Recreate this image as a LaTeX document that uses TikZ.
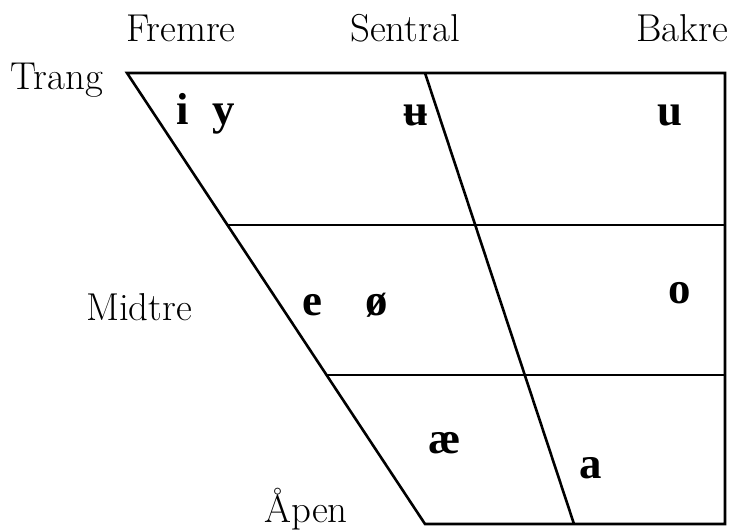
\documentclass[tikz,border=0pt]{standalone}
\usepackage{fontspec}
\setmainfont{Latin Modern Roman}
\newfontfamily\vowfont{Liberation Serif}
\begin{document}
\begin{tikzpicture}[x=1bp,y=-1bp,
  grid/.style={line width=2.6bp, line join=miter},
  lbl/.style={font=\fontsize{39}{39}\selectfont, inner sep=0pt, anchor=base},
  vow/.style={font=\vowfont\fontsize{45}{45}\selectfont\bfseries, inner sep=0pt, anchor=base}]
\useasboundingbox (0,0) rectangle (736,532);
% corners
\coordinate (TL) at (127,73);
\coordinate (TC) at (425,73);
\coordinate (TR) at (725,73);
\coordinate (BL) at (425,524);
\coordinate (BC) at (574,524);
\coordinate (BR) at (725,524);
\coordinate (M1L) at (227,225);
\coordinate (M1C) at (475,225);
\coordinate (M1R) at (725,225);
\coordinate (M2L) at (326,375);
\coordinate (M2C) at (525,375);
\coordinate (M2R) at (725,375);
\draw[grid] (TL) -- (TR) -- (BR) -- (BL) -- cycle;
\draw[grid] (TC) -- (BC);
\draw[grid] (M1L) -- (M1R);
\draw[grid] (M2L) -- (M2R);
% labels
\node[lbl] (fremre) at (181,42) {Fremre};
\node[lbl] (sentral) at (405,42) {Sentral};
\node[lbl, anchor=base east] (bakre) at (728,42) {Bakre};
\node[lbl] (trang) at (57,90) {Trang};
\node[lbl] (midtre) at (139,320) {Midtre};
\node[lbl] (apen) at (306,522) {Åpen};
% vowels
\node[vow] (i) at (183,125) {i};
\node[vow] (y) at (224,125) {y};
\node[vow] (ubar) at (416,126) {ʉ};
\node[vow] (u) at (670,126) {u};
\node[vow] (e) at (312,315) {e};
\node[vow] (oe) at (377,315) {ø};
\node[vow] (o) at (680,303) {o};
\node[vow] (ae) at (445,453) {æ};
\node[vow] (a) at (591,478) {a};
\end{tikzpicture}
\end{document}
